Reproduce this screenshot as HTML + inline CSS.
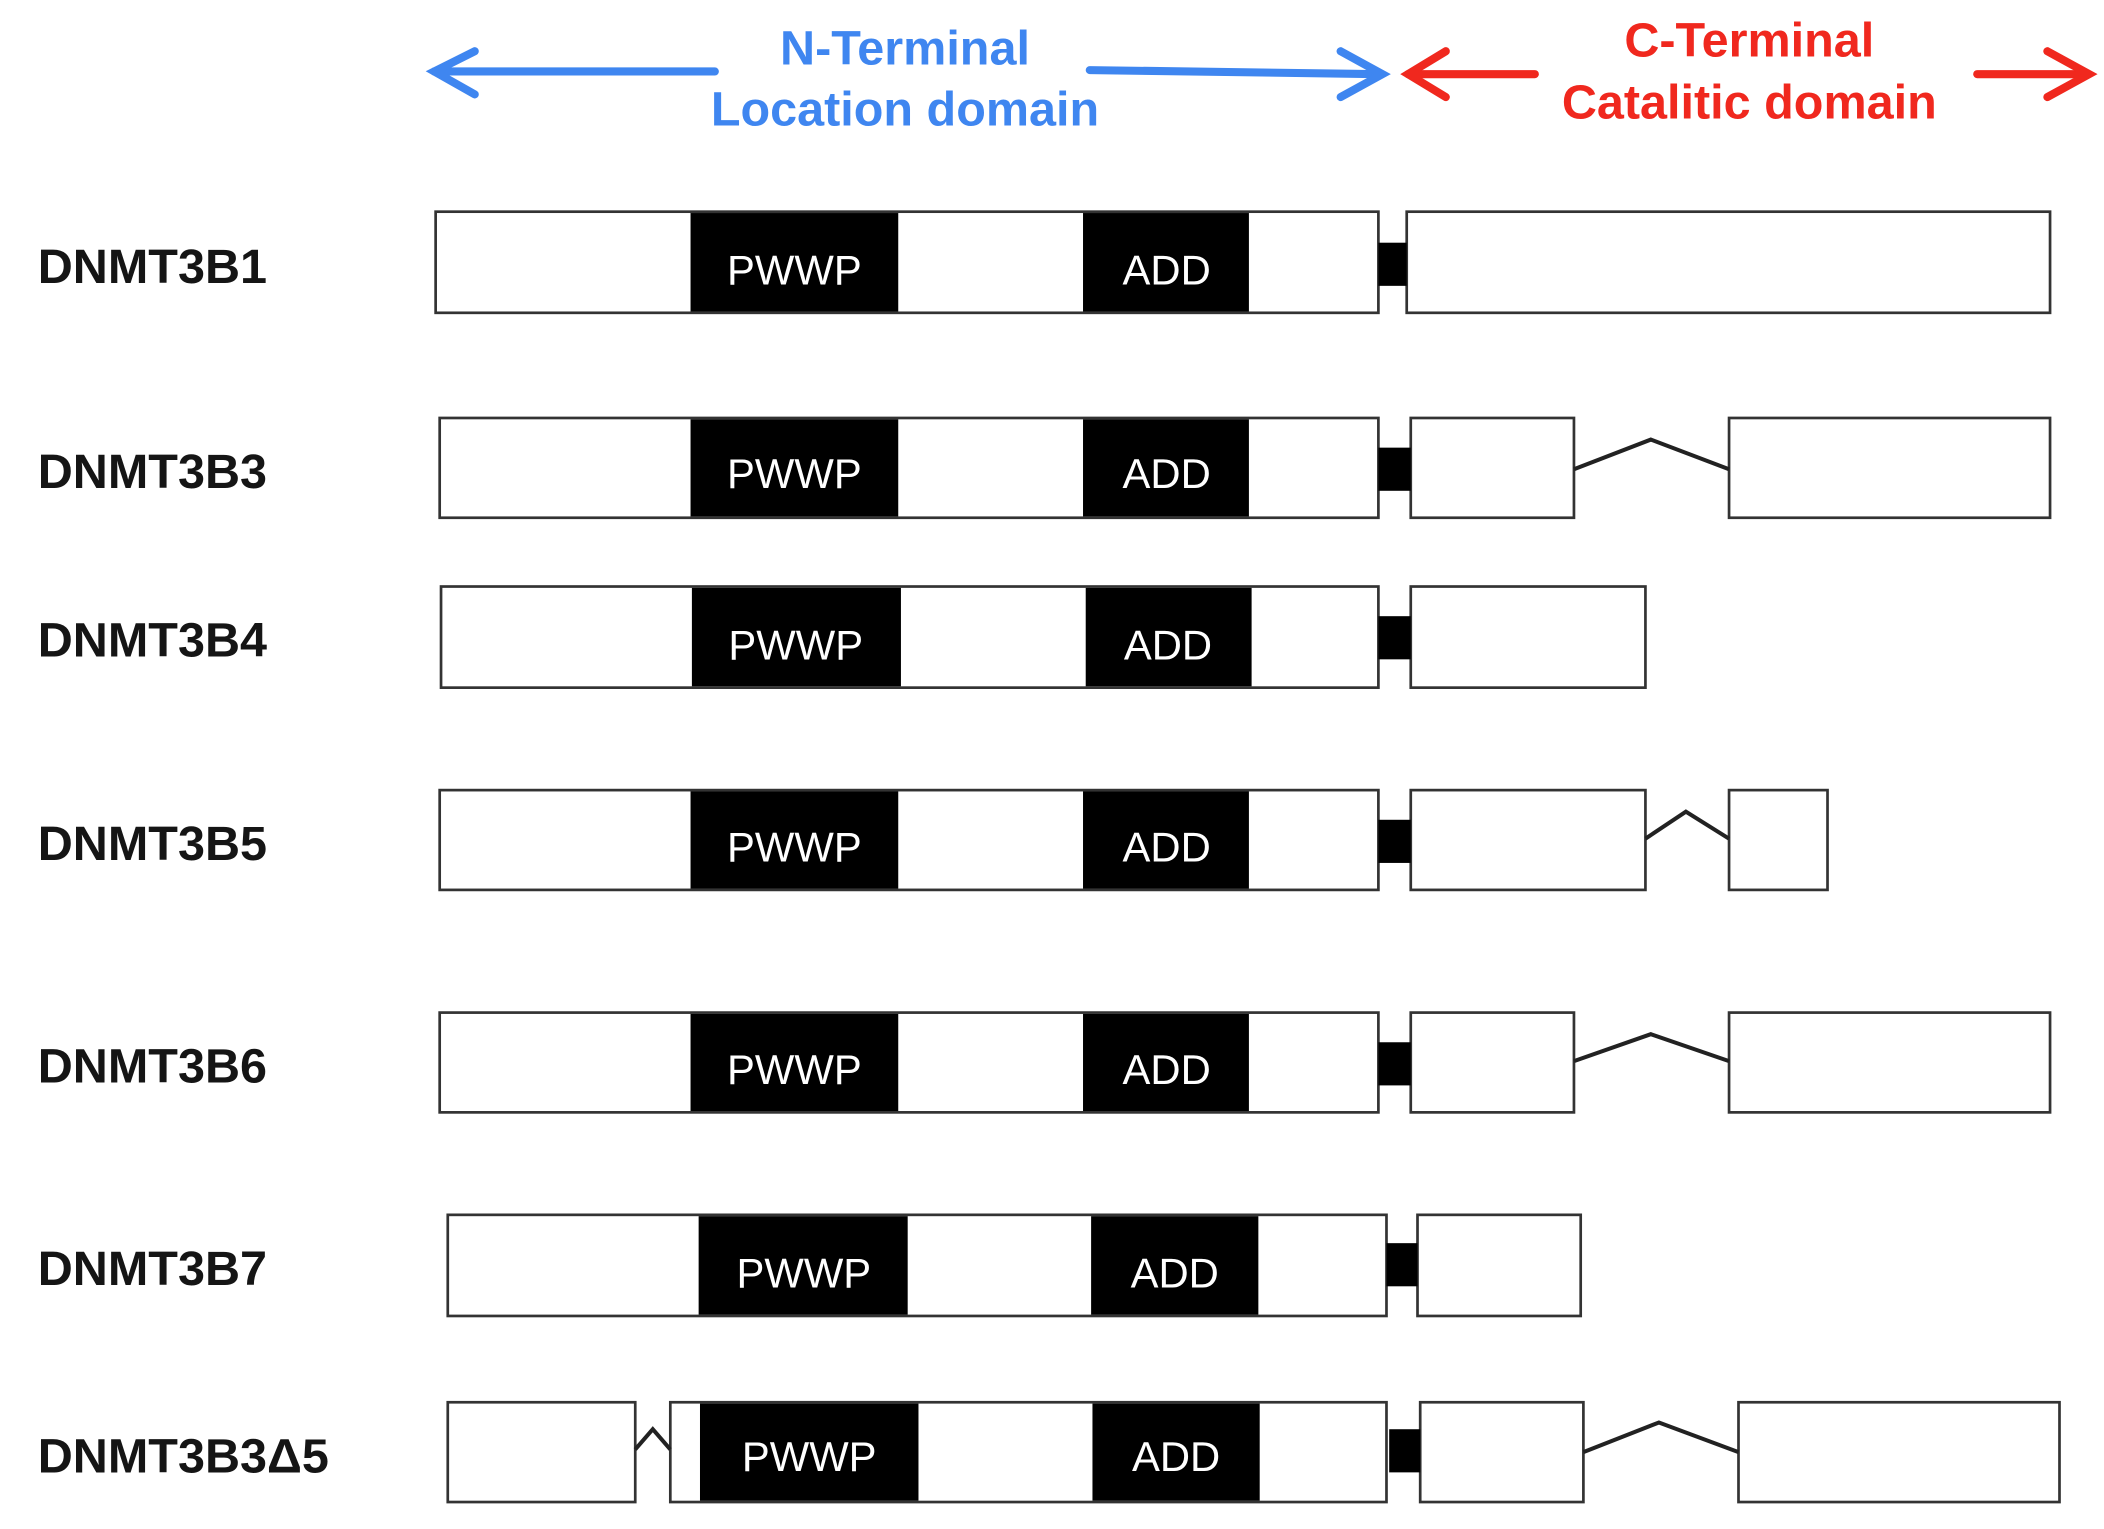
<!DOCTYPE html>
<html><head><meta charset="utf-8"><style>html,body{margin:0;padding:0;background:#fff}svg{display:block}</style></head><body>
<svg width="2104" height="1529" viewBox="0 0 1560 1134" preserveAspectRatio="none" xmlns="http://www.w3.org/2000/svg" font-family="Liberation Sans, sans-serif">
<defs>
<g id="none"></g>
</defs>
<!-- header arrows -->
<g stroke="#3f86f0" stroke-width="6" fill="none" stroke-linecap="round">
<line x1="322" y1="53" x2="530" y2="53"/><polyline points="352,38 322,53 352,70"/>
<line x1="808" y1="52" x2="1024" y2="55"/><polyline points="994,38 1025,55 994,72"/>
</g>
<g stroke="#f0281e" stroke-width="6" fill="none" stroke-linecap="round">
<line x1="1044" y1="55" x2="1138" y2="55"/><polyline points="1072,38 1044,55 1072,72"/>
<line x1="1466" y1="55" x2="1548" y2="55"/><polyline points="1518,38 1549,55 1518,72"/>
</g>
<g font-weight="bold" font-size="36" text-anchor="middle">
<text x="671" y="48" fill="#3f86f0">N-Terminal</text>
<text x="671" y="93" fill="#3f86f0">Location domain</text>
<text x="1297" y="42" fill="#f0281e">C-Terminal</text>
<text x="1297" y="88" fill="#f0281e">Catalitic domain</text>
</g>
<g font-weight="bold" font-size="36" fill="#151515">
<text x="28" y="210">DNMT3B1</text>
<text x="28" y="362">DNMT3B3</text>
<text x="28" y="487">DNMT3B4</text>
<text x="28" y="638">DNMT3B5</text>
<text x="28" y="803">DNMT3B6</text>
<text x="28" y="953">DNMT3B7</text>
<text x="28" y="1092">DNMT3B3Δ5</text>
</g>
<g fill="#fff" stroke="#333" stroke-width="2">
<rect x="323" y="157" width="699" height="75"/><rect x="1043" y="157" width="477" height="75"/>
<rect x="326" y="310" width="696" height="74"/><rect x="1046" y="310" width="121" height="74"/><rect x="1282" y="310" width="238" height="74"/>
<rect x="327" y="435" width="695" height="75"/><rect x="1046" y="435" width="174" height="75"/>
<rect x="326" y="586" width="696" height="74"/><rect x="1046" y="586" width="174" height="74"/><rect x="1282" y="586" width="73" height="74"/>
<rect x="326" y="751" width="696" height="74"/><rect x="1046" y="751" width="121" height="74"/><rect x="1282" y="751" width="238" height="74"/>
<rect x="332" y="901" width="696" height="75"/><rect x="1051" y="901" width="121" height="75"/>
<rect x="332" y="1040" width="139" height="74"/><rect x="497" y="1040" width="531" height="74"/><rect x="1053" y="1040" width="121" height="74"/><rect x="1289" y="1040" width="238" height="74"/>
</g>
<g fill="#000">
<rect x="512" y="158" width="154" height="73"/><rect x="803" y="158" width="123" height="73"/><rect x="1022" y="180" width="21" height="32"/>
<rect x="512" y="311" width="154" height="72"/><rect x="803" y="311" width="123" height="72"/><rect x="1022" y="332" width="24" height="32"/>
<rect x="513" y="436" width="155" height="73"/><rect x="805" y="436" width="123" height="73"/><rect x="1022" y="457" width="24" height="32"/>
<rect x="512" y="587" width="154" height="72"/><rect x="803" y="587" width="123" height="72"/><rect x="1022" y="608" width="24" height="32"/>
<rect x="512" y="752" width="154" height="72"/><rect x="803" y="752" width="123" height="72"/><rect x="1022" y="773" width="24" height="32"/>
<rect x="518" y="902" width="155" height="73"/><rect x="809" y="902" width="124" height="73"/><rect x="1028" y="922" width="23" height="32"/>
<rect x="519" y="1041" width="162" height="72"/><rect x="810" y="1041" width="124" height="72"/><rect x="1030" y="1060" width="23" height="32"/>
</g>
<g fill="none" stroke="#222" stroke-width="3">
<polyline points="1167,348 1224,326 1282,348"/>
<polyline points="1220,622 1250,602 1282,622"/>
<polyline points="1167,787 1224,767 1282,787"/>
<polyline points="471,1075 484,1060 497,1075"/>
<polyline points="1174,1077 1230,1055 1289,1077"/>
</g>
<g fill="#fff" font-size="31" text-anchor="middle">
<text x="589" y="211">PWWP</text><text x="865" y="211">ADD</text>
<text x="589" y="362">PWWP</text><text x="865" y="362">ADD</text>
<text x="590" y="489">PWWP</text><text x="866" y="489">ADD</text>
<text x="589" y="639">PWWP</text><text x="865" y="639">ADD</text>
<text x="589" y="804">PWWP</text><text x="865" y="804">ADD</text>
<text x="596" y="955">PWWP</text><text x="871" y="955">ADD</text>
<text x="600" y="1091">PWWP</text><text x="872" y="1091">ADD</text>
</g>
</svg>
</body></html>
